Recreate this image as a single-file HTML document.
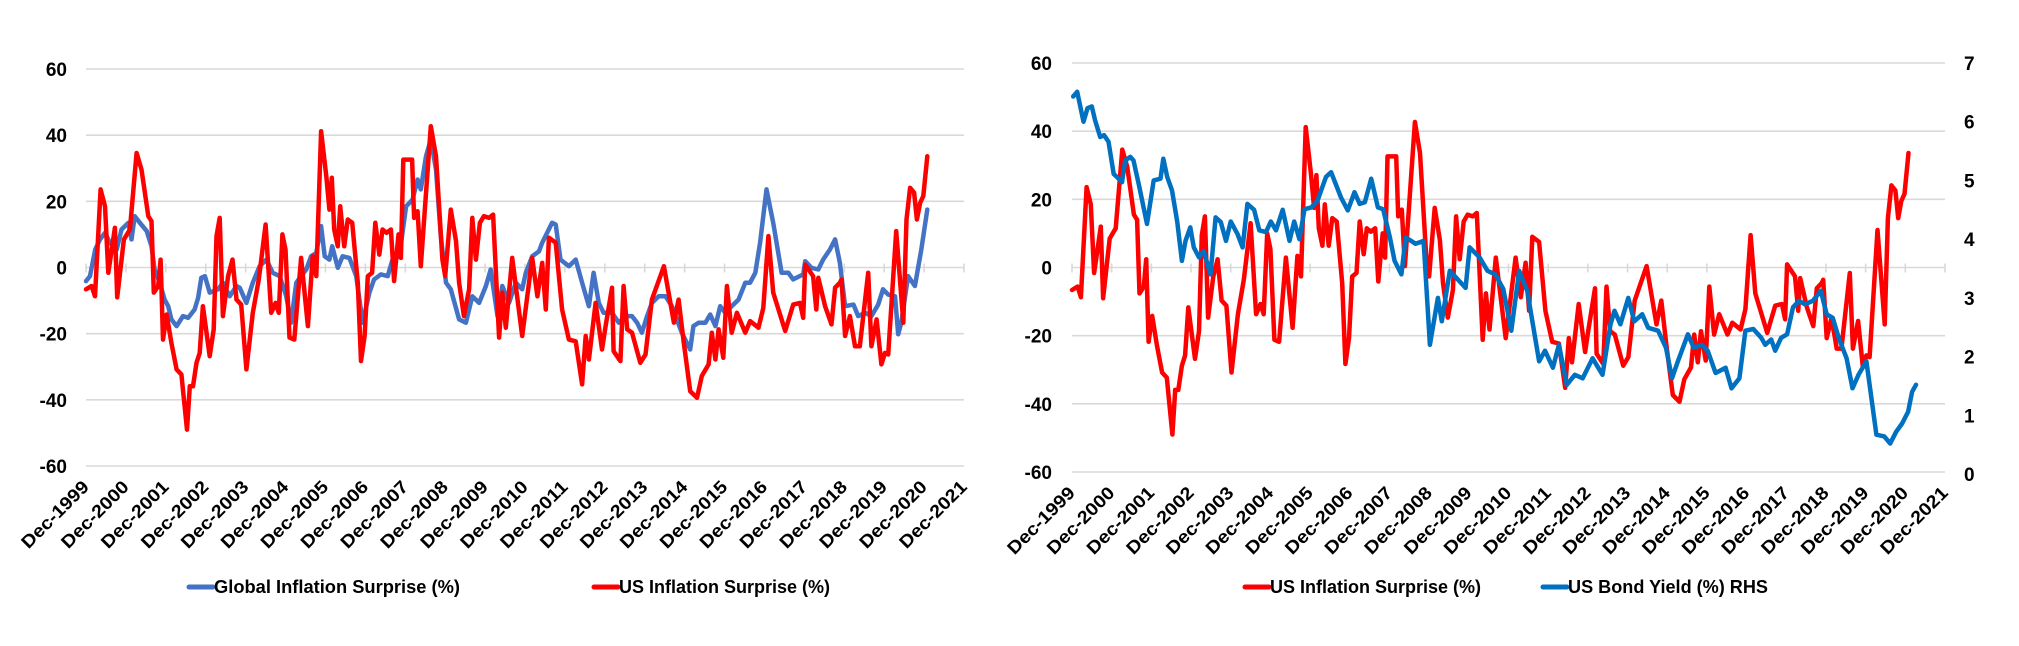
<!DOCTYPE html>
<html><head><meta charset="utf-8">
<style>
html,body{margin:0;padding:0;background:#fff;}
svg{display:block;font-family:"Liberation Sans",Arial,sans-serif;font-weight:bold;}
</style></head>
<body>
<svg id="c" width="2019" height="646" viewBox="0 0 2019 646" xmlns="http://www.w3.org/2000/svg"></svg>
<script>
// ---- data (years since Dec-1999) ----
const xTickLabels = ["Dec-1999","Dec-2000","Dec-2001","Dec-2002","Dec-2003","Dec-2004","Dec-2005","Dec-2006","Dec-2007","Dec-2008","Dec-2009","Dec-2010","Dec-2011","Dec-2012","Dec-2013","Dec-2014","Dec-2015","Dec-2016","Dec-2017","Dec-2018","Dec-2019","Dec-2020","Dec-2021"];
const leftTicks = [60,40,20,0,-20,-40,-60];
const rhsTicks = [0,1,2,3,4,5,6,7];
const usT = [0,.14,.225,.367,.475,.558,.725,.783,.95,1.1,1.267,1.39,1.56,1.64,1.7,1.81,1.87,1.93,2.02,2.14,2.27,2.39,2.53,2.6,2.68,2.77,2.85,2.93,3.1,3.2,3.27,3.35,3.43,3.56,3.67,3.77,3.89,4.02,4.18,4.33,4.5,4.64,4.75,4.83,4.92,5.0,5.1,5.22,5.39,5.56,5.68,5.77,5.89,6.02,6.1,6.16,6.22,6.31,6.37,6.47,6.56,6.67,6.81,6.89,6.98,7.06,7.17,7.25,7.35,7.43,7.53,7.64,7.72,7.83,7.89,7.95,8.17,8.22,8.31,8.39,8.64,8.77,8.93,9.0,9.14,9.27,9.35,9.47,9.6,9.68,9.77,9.87,9.97,10.1,10.2,10.35,10.43,10.52,10.68,10.93,11.18,11.31,11.43,11.52,11.6,11.77,11.93,12.1,12.27,12.43,12.52,12.6,12.77,12.93,13.02,13.18,13.22,13.39,13.47,13.56,13.68,13.89,14.02,14.18,14.48,14.73,14.85,14.98,15.14,15.31,15.43,15.6,15.68,15.77,15.85,15.97,16.06,16.18,16.31,16.52,16.64,16.85,16.97,17.1,17.22,17.52,17.72,17.89,17.97,18.02,18.22,18.3,18.35,18.52,18.68,18.77,18.89,18.93,19.02,19.14,19.27,19.39,19.6,19.68,19.81,19.93,20.02,20.1,20.3,20.48,20.56,20.65,20.75,20.82,20.9,20.98,21.08];
const usV = [-6.6,-5.6,-8.7,23.6,18.5,-1.6,12,-9,8.5,11.5,34.6,29.6,15.5,14,-7.6,-5.6,2.4,-21.8,-14.2,-22.8,-30.8,-32.3,-49,-35.9,-35.9,-28.8,-25.8,-11.7,-26.8,-18.7,9.5,15,-14.7,-2.6,2.4,-9.7,-11.2,-30.8,-13.7,-3.6,13,-13.7,-10.7,-13.7,10,5.4,-21.2,-21.8,2.9,-17.7,3.4,-2.6,41.2,27.6,17.5,27.1,11.5,6.4,18.5,6.4,14.5,13.5,-4.6,-28.3,-20.7,-2.6,-1.6,13.5,3.9,11.5,10.5,11.5,-4.1,10,2.9,32.6,32.6,15,17,0.4,42.7,33.6,2.4,-2.6,17.5,8,-4.6,-14.7,-6.6,15,2.4,13.5,15.5,15,16,-21.2,-7.6,-18.2,2.9,-20.7,2.9,-8.7,1.4,-12.7,9,7.5,-12.7,-21.8,-22.3,-35.3,-20.7,-27.8,-10.7,-24.8,-17.7,-6.1,-25.3,-28.3,-5.6,-18.7,-19.7,-28.8,-26.3,-9.7,0.4,-16.7,-9.7,-22.8,-37.4,-39.4,-32.8,-29.3,-19.7,-27.8,-18.7,-27.3,-5.6,-19.7,-13.7,-19.7,-16.2,-18.2,-12.2,9.5,-7.6,-19.2,-11.2,-10.7,-15.2,0.9,-2.6,-12.7,-3.1,-11.7,-17.2,-6.1,-4.6,-3.6,-20.7,-14.7,-23.8,-23.8,-1.6,-23.8,-15.7,-29.3,-25.8,-26.3,11,-16.7,14.5,24.1,22.6,14.5,19.5,21.6,33.6];
const glT = [0,.1,.23,.35,.475,.6,.77,.89,1.06,1.14,1.22,1.35,1.52,1.64,1.72,1.85,1.97,2.06,2.14,2.27,2.43,2.56,2.72,2.81,2.89,2.98,3.1,3.31,3.43,3.6,3.77,3.85,4.02,4.18,4.35,4.52,4.68,4.85,5.02,5.14,5.27,5.39,5.52,5.64,5.77,5.89,5.98,6.1,6.17,6.31,6.43,6.6,6.77,6.93,7.1,7.22,7.39,7.56,7.68,7.85,8.02,8.18,8.31,8.39,8.52,8.64,8.77,8.89,9.02,9.14,9.35,9.52,9.68,9.85,10.02,10.14,10.31,10.43,10.6,10.77,10.93,11.02,11.18,11.35,11.43,11.68,11.77,11.89,12.1,12.27,12.43,12.6,12.72,12.85,12.97,13.18,13.35,13.52,13.68,13.81,13.93,14.06,14.18,14.35,14.52,14.68,14.93,15.14,15.22,15.35,15.52,15.64,15.77,15.89,16.02,16.18,16.35,16.52,16.64,16.77,16.89,17.05,17.22,17.43,17.6,17.72,17.97,18.02,18.18,18.35,18.47,18.64,18.77,18.89,19.02,19.23,19.35,19.52,19.68,19.85,19.97,20.1,20.27,20.35,20.43,20.6,20.77,20.93,21.08];
const glV = [-4.1,-2.6,5.4,8.5,10.5,7.5,5.4,11.5,13.5,8.5,15.5,13.5,11,6.4,-0.6,-4.6,-9.7,-11.7,-15.7,-17.7,-14.7,-15.2,-12.7,-9.2,-3.1,-2.6,-7.6,-6.6,-4.6,-8.7,-5.6,-6.1,-10.7,-4.6,0.4,2.4,-1.6,-2.6,-8.7,-16.7,-4.6,-2.6,-0.6,3.4,4.4,12.5,3.4,2.4,6.4,-0.1,3.4,2.9,-2.6,-16.7,-7.6,-3.6,-2.1,-2.6,2.4,3.4,18.5,20.5,26.6,23.6,33.6,38.7,29.6,9.5,-4.6,-6.6,-15.7,-16.7,-8.7,-10.7,-5.6,-0.6,-14.7,-5.6,-10.7,-4.6,-6.6,-1.6,3.4,4.9,7.5,13.5,13,2.4,0.4,2.4,-4.6,-11.7,-1.6,-10.7,-13.7,-13.7,-16.7,-14.7,-14.7,-16.7,-19.7,-14.7,-10.7,-8.7,-8.7,-11.7,-19.7,-24.8,-17.7,-16.7,-16.7,-14.2,-17.7,-11.7,-13.7,-11.7,-9.7,-4.6,-4.6,-1.6,7.5,23.6,13.5,-1.6,-1.6,-3.6,-2.1,1.9,-0.1,-0.6,2.4,5.4,8.5,1.4,-11.7,-11.2,-14.7,-13.7,-14.7,-11.2,-6.6,-8.2,-8.7,-20.2,-16.7,-2.6,-5.6,5.4,17.5];
const byT = [.03,.13,.29,.39,.5,.58,.71,.81,.92,1.05,1.13,1.26,1.34,1.47,1.55,1.68,1.89,2.06,2.23,2.3,2.4,2.52,2.65,2.77,2.86,2.98,3.07,3.2,3.32,3.49,3.62,3.75,3.88,4.0,4.17,4.3,4.42,4.59,4.72,4.89,5.01,5.14,5.31,5.48,5.6,5.73,5.86,6.03,6.19,6.4,6.53,6.78,6.95,7.12,7.25,7.38,7.54,7.71,7.84,8.01,8.13,8.3,8.41,8.66,8.86,9.02,9.22,9.32,9.52,9.92,10.02,10.27,10.47,10.67,10.87,11.07,11.27,11.47,11.77,11.92,12.12,12.27,12.47,12.67,12.87,13.12,13.37,13.57,13.67,13.82,14.02,14.17,14.37,14.52,14.77,14.97,15.12,15.27,15.52,15.67,15.87,16.02,16.22,16.47,16.62,16.82,16.97,17.17,17.37,17.47,17.62,17.72,17.87,18.02,18.17,18.32,18.47,18.67,18.87,19.02,19.17,19.32,19.52,19.67,19.82,20.02,20.27,20.47,20.62,20.77,20.92,21.07,21.17,21.27];
const byV = [6.43,6.51,6.0,6.23,6.26,6.03,5.74,5.77,5.66,5.11,5.06,4.97,5.34,5.4,5.34,4.94,4.26,5.0,5.03,5.37,5.06,4.83,4.3,3.63,3.97,4.2,3.86,3.69,3.8,3.4,4.37,4.29,3.97,4.3,4.09,3.86,4.6,4.5,4.15,4.12,4.3,4.15,4.5,3.97,4.3,4.0,4.51,4.54,4.66,5.06,5.14,4.71,4.49,4.8,4.6,4.63,5.03,4.54,4.51,4.03,3.63,3.4,4.03,3.92,3.97,2.2,3.0,2.6,3.46,3.17,3.86,3.69,3.46,3.4,3.15,2.44,3.46,3.12,1.92,2.1,1.81,2.2,1.52,1.69,1.63,1.97,1.69,2.55,2.78,2.55,3.0,2.6,2.72,2.49,2.44,2.15,1.63,1.92,2.38,2.15,2.2,2.1,1.72,1.81,1.46,1.63,2.44,2.47,2.32,2.2,2.29,2.1,2.32,2.38,2.84,2.95,2.89,2.95,3.12,2.72,2.66,2.32,1.97,1.46,1.69,1.92,0.67,0.64,0.52,0.72,0.86,1.06,1.4,1.52];

const NS = "http://www.w3.org/2000/svg";
const svg = document.getElementById('c');
function mk(tag, attrs, parent){ const e=document.createElementNS(NS,tag); for(const k in attrs) e.setAttribute(k,attrs[k]); (parent||svg).appendChild(e); return e; }

function drawChart(cfg){
  const g = mk('g',{});
  
  
  const xs = t => cfg.x0 + t*(cfg.x1-cfg.x0)/22;
  const ys = v => cfg.y0 + (60-v)*(cfg.yb-cfg.y0)/120;
  leftTicks.forEach(v=>{
    const l = mk('line',{x1:cfg.x0,x2:cfg.x1,y1:ys(v),y2:ys(v),stroke:'#d9d9d9','stroke-width':1.6},g);
    
    
    const t = mk('text',{x:cfg.lx,y:ys(v)+7,'text-anchor':'end','font-size':19,fill:'#000'},g);
    t.textContent = v;
    
    
  });
  if(cfg.rhs){
    const yr = v => cfg.y0 + (7-v)*(cfg.rb-cfg.y0)/7;
    rhsTicks.forEach(v=>{
      const t = mk('text',{x:cfg.rx,y:yr(v)+7,'text-anchor':'start','font-size':19,fill:'#000'},g);
      t.textContent = v;
      
      
    });
    cfg.yr = yr;
  }
  xTickLabels.forEach((lab,i)=>{
    const x = xs(i);
    const tk = mk('line',{x1:x,x2:x,y1:ys(0)-4,y2:ys(0)+5,stroke:'#d9d9d9','stroke-width':1.6},g);
    
    
    const tx = x+4, ty = cfg.yb+22;
    const t = mk('text',{x:tx,y:ty,'text-anchor':'end','font-size':18,fill:'#000',transform:`rotate(-45 ${tx} ${ty})`,textLength:87,lengthAdjust:'spacingAndGlyphs'},g);
    t.textContent = lab;
    
    
  });
  cfg.series.forEach(s=>{
    const yf = s.rhs ? cfg.yr : ys;
    const d = s.t.map((t,i)=>(i?'L':'M')+xs(t).toFixed(1)+' '+yf(s.v[i]).toFixed(1)).join(' ');
    const p = mk('path',{d:d,fill:'none',stroke:s.color,'stroke-width':4.5,'stroke-linejoin':'round','stroke-linecap':'round'},g);
    
    
  });
  cfg.legend.forEach(L=>{
    const lg = mk('g',{},g);
    
    
    mk('line',{x1:L.x,x2:L.x+24,y1:587,y2:587,stroke:L.color,'stroke-width':5,'stroke-linecap':'round'},lg);
    const t = mk('text',{x:L.x+25,y:593,'font-size':18,fill:'#000',textLength:L.w,lengthAdjust:'spacingAndGlyphs'},lg);
    t.textContent = L.text;
  });
}

drawChart({name:'left-chart',x0:86,x1:964,y0:69,yb:466,lx:67,
  series:[{name:'global-inflation-line',t:glT,v:glV,color:'#4472C4'},{name:'us-inflation-line',t:usT,v:usV,color:'#FF0000'}],
  legend:[{x:189,color:'#4472C4',text:'Global Inflation Surprise (%)',w:246},{x:594,color:'#FF0000',text:'US Inflation Surprise (%)',w:211}]});

drawChart({name:'right-chart',x0:1072,x1:1945,y0:63,yb:472,lx:1052,rhs:true,rb:474,rx:1964,
  series:[{name:'us-inflation-line',t:usT,v:usV,color:'#FF0000'},{name:'us-bond-yield-line',t:byT,v:byV,color:'#0070C0',rhs:true}],
  legend:[{x:1245,color:'#FF0000',text:'US Inflation Surprise (%)',w:211},{x:1543,color:'#0070C0',text:'US Bond Yield (%) RHS',w:200}]});
</script>
</body></html>
